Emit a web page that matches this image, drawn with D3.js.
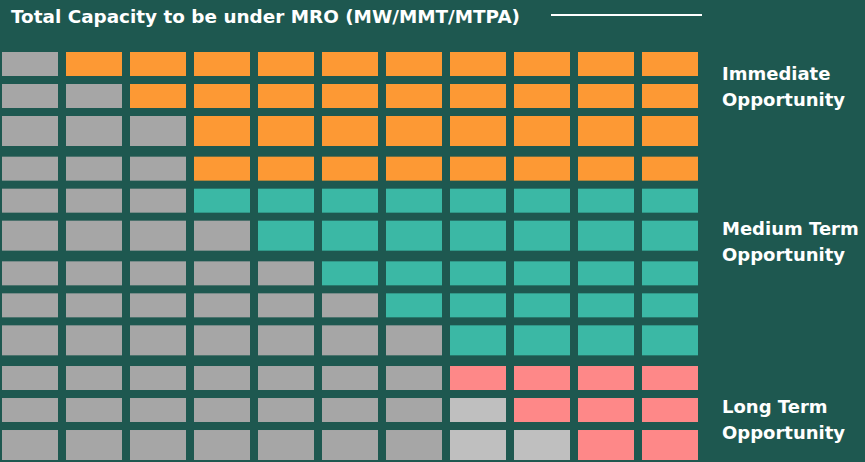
<!DOCTYPE html>
<html>
<head>
<meta charset="utf-8">
<title>Total Capacity to be under MRO</title>
<style>
body { margin: 0; background: #1e5850; }
svg { display: block; }
text { fill: #fff; font-family: "DejaVu Sans", sans-serif; font-weight: bold; }
</style>
</head>
<body>
<script src="https://cdn.jsdelivr.net/npm/d3@7"></script>
<script>

// Data: one entry per row of the grid (top to bottom), 11 cells per row
var columns = 11;
var rowIds = d3.range(12);
var greyCells  = [1, 2, 3, 3, 3, 4, 5, 6, 7, 7, 7, 7];  // dark grey cells on the left
var lightCells = [0, 0, 0, 0, 0, 0, 0, 0, 0, 0, 1, 2];  // light grey cells after them
var rowType    = ["immediate", "immediate", "immediate", "immediate",
                  "medium", "medium", "medium", "medium", "medium",
                  "long", "long", "long"];

var categories = ["grey", "light", "immediate", "medium", "long"];
var categoryColors = ["#a6a6a6", "#bfbfbf", "#fd9934", "#3bb8a5", "#fe8888"];

var labelTexts = [
  ["Immediate", "Opportunity"],
  ["Medium Term", "Opportunity"],
  ["Long Term", "Opportunity"]
];

var title = "Total Capacity to be under MRO (MW/MMT/MTPA)";

// Dimensions
var width = 865,
    height = 462;

var svg = d3.select("body")
    .append("svg")
    .attr("width", width)
    .attr("height", height);

// build the cell list
var cells = [];
rowIds.forEach(function(r) {
  for (var c = 0; c < columns; c++) {
    var type;
    if (c < greyCells[r]) type = "grey";
    else if (c < greyCells[r] + lightCells[r]) type = "light";
    else type = rowType[r];
    cells.push({row: r, col: c, type: type});
  }
});

var color = d3.scaleOrdinal()
    .domain(categories)
    .range(categoryColors);

// columns
var x = d3.scaleBand()
    .domain(d3.range(columns))
    .range([2, 698])
    .paddingInner(0.125);

// rows come in groups of three, the last row of each group is a bit taller
var group = d3.scaleBand()
    .domain(d3.range(4))
    .range([52, 460])
    .paddingInner(0.102);

var inner = [0, 32, 64];   // offset of each row inside its group
var innerH = [24, 24, 30];

function rowY(r) { return group(Math.floor(r / 3)) + inner[r % 3]; }
function rowH(r) { return innerH[r % 3]; }

svg.append("g")
    .selectAll("rect")
    .data(cells)
    .enter()
    .append("rect")
    .attr("x", d => x(d.col))
    .attr("y", d => rowY(d.row))
    .attr("width", x.bandwidth())
    .attr("height", d => rowH(d.row))
    .style("fill", d => color(d.type));

// Title and rule
svg.append("text")
    .attr("x", 11)
    .attr("y", 23)
    .style("font-size", "18.4px")
    .text(title);

svg.append("line")
    .attr("x1", 551)
    .attr("x2", 702)
    .attr("y1", 15)
    .attr("y2", 15)
    .style("stroke", "#fff")
    .style("stroke-width", 2);

// Right side labels
var labelY = [80, 235, 413];

svg.append("g")
    .selectAll("text")
    .data(labelTexts)
    .enter()
    .append("text")
    .attr("x", 722)
    .attr("y", (d, i) => labelY[i])
    .style("font-size", "18px")
    .selectAll("tspan")
    .data(d => d)
    .enter()
    .append("tspan")
    .attr("x", 722)
    .attr("dy", (d, i) => i === 0 ? 0 : 25.5)
    .text(d => d);

</script>
</body>
</html>
